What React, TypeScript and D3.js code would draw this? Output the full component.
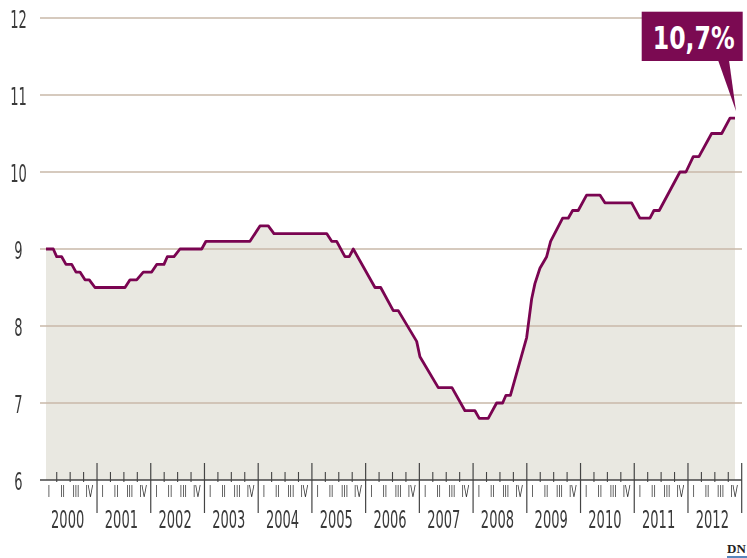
import * as d3 from 'd3';
import { useEffect, useRef } from 'react';

// vertices of the line, time in decimal years
const times = [
  2000.05, 2000.186, 2000.249, 2000.342, 2000.422, 2000.529, 2000.609, 2000.683, 2000.776, 2000.856,
  2000.962, 2001.521, 2001.614, 2001.738, 2001.861, 2002.017, 2002.111, 2002.246, 2002.308, 2002.433,
  2002.544, 2002.948, 2003.028, 2003.847, 2004.033, 2004.188, 2004.294, 2005.275, 2005.368, 2005.461,
  2005.615, 2005.695, 2005.77, 2006.174, 2006.28, 2006.514, 2006.607, 2006.95, 2007.011, 2007.352,
  2007.607, 2007.849, 2008.035, 2008.115, 2008.282, 2008.438, 2008.55, 2008.612, 2008.695, 2008.997,
  2009.09, 2009.151, 2009.244, 2009.369, 2009.443, 2009.667, 2009.771, 2009.853, 2009.957, 2010.113,
  2010.361, 2010.454, 2010.951, 2011.105, 2011.292, 2011.366, 2011.465, 2011.85, 2011.962, 2012.098,
  2012.204, 2012.44, 2012.628, 2012.782, 2012.875,
];
const values = [
  9.0, 9.0, 8.9, 8.9, 8.8, 8.8, 8.7, 8.7, 8.6, 8.6,
  8.5, 8.5, 8.6, 8.6, 8.7, 8.7, 8.8, 8.8, 8.9, 8.9,
  9.0, 9.0, 9.1, 9.1, 9.3, 9.3, 9.2, 9.2, 9.1, 9.1,
  8.9, 8.9, 9.0, 8.5, 8.5, 8.2, 8.2, 7.8, 7.6, 7.2,
  7.2, 6.9, 6.9, 6.8, 6.8, 7.0, 7.0, 7.1, 7.1, 7.85,
  8.35, 8.55, 8.75, 8.9, 9.1, 9.4, 9.4, 9.5, 9.5, 9.7,
  9.7, 9.6, 9.6, 9.4, 9.4, 9.5, 9.5, 10.0, 10.0, 10.2,
  10.2, 10.5, 10.5, 10.7, 10.7,
];

const years = [2000, 2001, 2002, 2003, 2004, 2005, 2006, 2007, 2008, 2009, 2010, 2011, 2012];
const quarters = ['I', 'II', 'III', 'IV'];
const yTicks = [6, 7, 8, 9, 10, 11, 12];
const calloutLabel = '10,7%';

const W = 747;
const H = 558;
const FONT = '"DejaVu Sans Condensed", "DejaVu Sans", sans-serif';

export default function App() {
  const svgRef = useRef<SVGSVGElement | null>(null);

  useEffect(() => {
    if (!svgRef.current) return;
    const svg = d3.select(svgRef.current);
    svg.selectAll('*').remove();

    const x = d3.scaleLinear().domain([2000, 2013]).range([43.3, 741.7]);
    const y = d3.scaleLinear().domain([6, 12]).range([480, 18]);

    const data = times.map((t, i) => ({ t, v: values[i] }));

    // grey filter so the squeezed small text renders without colour fringes
    svg
      .append('defs')
      .append('filter')
      .attr('id', 'grey')
      .append('feColorMatrix')
      .attr('type', 'saturate')
      .attr('values', 0);

    // condensed text helper
    const label = (
      g: d3.Selection<SVGGElement, unknown, null, undefined>,
      tx: number,
      ty: number,
      text: string,
      size: number,
      sx = 0.58,
      fill = '#3a3a3a',
      weight = 'normal'
    ) =>
      g
        .append('text')
        .attr('transform', `translate(${tx},${ty}) scale(${sx},1)`)
        .attr('text-anchor', 'middle')
        .attr('font-family', FONT)
        .attr('font-size', size)
        .attr('font-weight', weight)
        .attr('fill', fill)
        .text(text);

    const root = svg.append('g');

    // area
    const area = d3
      .area<{ t: number; v: number }>()
      .x((d) => x(d.t))
      .y0(y(6))
      .y1((d) => y(d.v));
    root.append('path').datum(data).attr('d', area).attr('fill', '#e9e8e1');

    // gridlines
    root
      .selectAll('.grid')
      .data(yTicks.filter((d) => d > 6))
      .enter()
      .append('line')
      .attr('x1', 40)
      .attr('x2', 742)
      .attr('y1', (d) => y(d))
      .attr('y2', (d) => y(d))
      .attr('stroke', '#c9b9a9')
      .attr('stroke-width', 1.6);

    // y labels
    const yl = root.append('g').attr('filter', 'url(#grey)');
    yTicks.forEach((d) => label(yl, 18.5, y(d) + 10, String(d), 25));

    // line
    const line = d3
      .line<{ t: number; v: number }>()
      .x((d) => x(d.t))
      .y((d) => y(d.v));
    root
      .append('path')
      .datum(data)
      .attr('d', line)
      .attr('fill', 'none')
      .attr('stroke', '#7a0451')
      .attr('stroke-width', 2.8)
      .attr('stroke-linejoin', 'round');

    // x axis
    const axis = root.append('g').attr('filter', 'url(#grey)');
    axis
      .append('line')
      .attr('x1', 40)
      .attr('x2', 742)
      .attr('y1', y(6))
      .attr('y2', y(6))
      .attr('stroke', '#444')
      .attr('stroke-width', 1.5);

    years.forEach((yr) => {
      // year boundary at end of year
      axis
        .append('line')
        .attr('x1', x(yr + 1))
        .attr('x2', x(yr + 1))
        .attr('y1', 463)
        .attr('y2', 513)
        .attr('stroke', '#444')
        .attr('stroke-width', 1.2);
      [0.25, 0.5, 0.75].forEach((q) => {
        axis
          .append('line')
          .attr('x1', x(yr + q))
          .attr('x2', x(yr + q))
          .attr('y1', 472)
          .attr('y2', 482)
          .attr('stroke', '#444')
          .attr('stroke-width', 1.1);
      });
      quarters.forEach((ql, i) => {
        label(axis, x(yr + i * 0.25 + 0.125) - 1, 497, ql, 15);
      });
      label(axis, x(yr + 0.5) - 2.5, 528, String(yr), 25);
    });

    // callout
    const last = data[data.length - 1];
    const tipX = x(last.t) + 1;
    const tipY = y(last.v) - 7;
    const box = { x0: 641.7, x1: 742.7, y0: 11.7, y1: 61 };
    const c = root.append('g');
    c.append('rect')
      .attr('x', box.x0)
      .attr('y', box.y0)
      .attr('width', box.x1 - box.x0)
      .attr('height', box.y1 - box.y0)
      .attr('fill', '#7b0a52');
    c.append('path')
      .attr('d', `M${tipX - 18},${box.y1 - 1}L${tipX - 7},${box.y1 - 1}L${tipX},${tipY}Z`)
      .attr('fill', '#7b0a52');
    label(c, (box.x0 + box.x1) / 2 + 1.5, 48.5, calloutLabel, 32, 0.82, '#ffffff', 'bold');

    // DN logo
    root
      .append('text')
      .attr('x', 727)
      .attr('y', 553)
      .attr('font-family', '"Liberation Serif", serif')
      .attr('font-weight', 'bold')
      .attr('font-size', 13)
      .attr('fill', '#222')
      .text('DN');
    root
      .append('line')
      .attr('x1', 727)
      .attr('x2', 747)
      .attr('y1', 557)
      .attr('y2', 557)
      .attr('stroke', '#1f5fa8')
      .attr('stroke-width', 1.5);
  }, []);

  return (
    <div style={{ position: 'fixed', left: 0, top: 0 }}>
      <svg ref={svgRef} width={W} height={H} style={{ display: 'block', background: '#fff' }} />
    </div>
  );
}
